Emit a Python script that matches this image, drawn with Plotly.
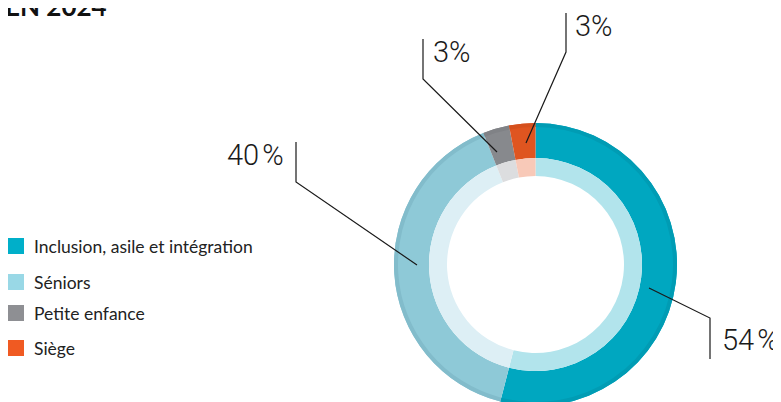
import plotly.graph_objects as go

# ---- data ----
categories = ["Inclusion, asile et intégration", "Séniors", "Petite enfance", "Siège"]
values = [54, 40, 3, 3]
pct_labels = ["54\u200a%", "40\u200a%", "3%", "3%"]
outer_colors = ["#00A7C0", "#8EC9D7", "#87898D", "#DF5520"]
edge_colors = ["#009CB4", "#82BCCB", "#808286", "#D5501D"]
inner_colors = ["#B2E4EC", "#DDEFF5", "#DCDDDF", "#F8C9B8"]
legend_colors = ["#00AFC9", "#99D8E6", "#8E8F93", "#F05A22"]
title_text = "EN 2024"

# ---- layout constants (page pixels; the page body has an 8 px margin) ----
OFF = 8
W, H = 781, 400
CX, CY = 535.5, 264.5
R_OUT, R_EDGE, R_MID, R_IN = 141.5, 137.5, 106.5, 88.5
legend_y = [246, 282, 313, 348]


def px(x):
    return (x - OFF) / W


def py(y):
    return 1 - (y - OFF) / H


def dom(r):
    return dict(x=[px(CX - r), px(CX + r)], y=[py(CY + r), py(CY - r)])


def ring(r_outer, r_inner, colors):
    return go.Pie(labels=categories, values=values, sort=False, direction="clockwise",
                  rotation=0, hole=r_inner / r_outer, domain=dom(r_outer),
                  marker=dict(colors=colors, line=dict(width=0)),
                  textinfo="none", hoverinfo="skip", showlegend=False)


fig = go.Figure()
fig.add_trace(ring(R_OUT, R_MID, outer_colors))
fig.add_trace(ring(R_OUT, R_EDGE, edge_colors))
fig.add_trace(ring(R_MID, R_IN, inner_colors))

# legend (squares + labels)
for name, c, ly in zip(categories, legend_colors, legend_y):
    fig.add_shape(type="rect", xref="paper", yref="paper",
                  x0=px(8), x1=px(24), y0=py(ly + 8), y1=py(ly - 8),
                  fillcolor=c, line=dict(width=0))
    fig.add_annotation(x=px(32), y=py(ly), xref="paper", yref="paper", text=name,
                       showarrow=False, xanchor="left", yanchor="middle",
                       font=dict(family="Lato", size=17.5, color="#222222"))

# leader lines: start -> elbow -> end
leaders = [
    [(649, 288), (710, 318), (710, 359)],
    [(417, 265), (296, 182), (296, 142)],
    [(497, 152), (423, 79), (423, 39)],
    [(526, 143), (566, 52), (566, 13)],
]
label_pos = [(720, 340, "left"), (286, 155, "right"), (431, 52, "left"), (573, 26, "left")]

for pts in leaders:
    path = "M " + " L ".join(f"{px(x):.5f},{py(y):.5f}" for x, y in pts)
    fig.add_shape(type="path", path=path, xref="paper", yref="paper",
                  line=dict(color="#1a1a1a", width=1.2))

for (x, y, anc), t in zip(label_pos, pct_labels):
    fig.add_annotation(x=px(x), y=py(y), xref="paper", yref="paper", text=t, showarrow=False,
                       xanchor=anc, yanchor="middle",
                       font=dict(family="Roboto", size=29, color="#1a1a1a", weight=300))

fig.add_annotation(x=px(3), y=py(24), xref="paper", yref="paper", text=f"<b>{title_text}</b>",
                   showarrow=False, xanchor="left", yanchor="bottom",
                   font=dict(family="Lato", size=26, color="#111111"))

fig.update_layout(
    width=W, height=H, margin=dict(l=0, r=0, t=0, b=0, autoexpand=False),
    paper_bgcolor="white", plot_bgcolor="white",
    showlegend=False,
)

fig.write_html("out.html")
